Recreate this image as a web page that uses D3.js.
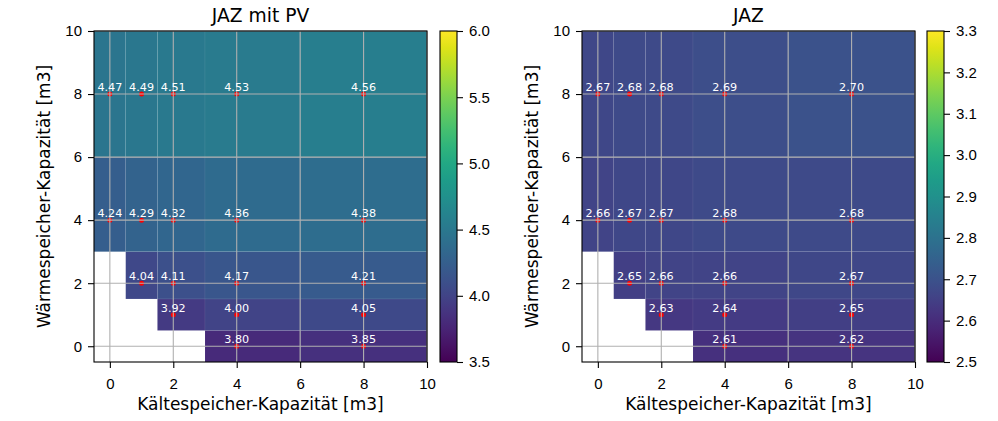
<!DOCTYPE html>
<html>
<head>
<meta charset="utf-8">
<script src="https://cdnjs.cloudflare.com/ajax/libs/d3/7.8.5/d3.min.js"></script>
<style>
body { margin: 0; background: #fff; }
svg { display: block; font-family: "DejaVu Sans", sans-serif; }
.domain { stroke: none; }
</style>
</head>
<body>
<div id="plot"></div>
<script>
// storage sizes (m3)
var coldSizes = [0, 1, 2, 4, 8];   // Kältespeicher, x
var warmSizes = [0, 1, 2, 4, 8];   // Wärmespeicher, y

// rows by warmSizes, columns by coldSizes; null = no result
var jazPV = [
  [null, null, null, 3.80, 3.85],
  [null, null, 3.92, 4.00, 4.05],
  [null, 4.04, 4.11, 4.17, 4.21],
  [4.24, 4.29, 4.32, 4.36, 4.38],
  [4.47, 4.49, 4.51, 4.53, 4.56]
];
var jaz = [
  [null, null, null, 2.61, 2.62],
  [null, null, 2.63, 2.64, 2.65],
  [null, 2.65, 2.66, 2.66, 2.67],
  [2.66, 2.67, 2.67, 2.68, 2.68],
  [2.67, 2.68, 2.68, 2.69, 2.70]
];
var titles = ["JAZ mit PV", "JAZ"];
var colorRanges = [[3.5, 6.0], [2.5, 3.3]];
var cbTicks = [[3.5, 4.0, 4.5, 5.0, 5.5, 6.0], [2.5, 2.6, 2.7, 2.8, 2.9, 3.0, 3.1, 3.2, 3.3]];
var axisTicks = [0, 2, 4, 6, 8, 10];
var xLabel = "Kältespeicher-Kapazität [m3]";
var yLabel = "Wärmespeicher-Kapazität [m3]";

(function() {
var W = 998, H = 421;
var svg = d3.select("#plot").append("svg").attr("width", W).attr("height", H);

// cell edges like pcolormesh shading='nearest'
function edges(v) {
  var e = [v[0] - (v[1] - v[0]) / 2];
  for (var i = 0; i < v.length - 1; ++i) e.push((v[i] + v[i + 1]) / 2);
  e.push(v[v.length - 1] + (v[v.length - 1] - v[v.length - 2]) / 2);
  return e;
}
var xe = edges(coldSizes), ye = edges(warmSizes);

var panels = [
  {data: jazPV, left: 94, right: 427, cbL: 440, cbR: 457, ylabX: 50},
  {data: jaz, left: 582, right: 915, cbL: 927, cbR: 944, ylabX: 538}
];
var pTop = 31, pBot = 362;

function styleTicks(sel) {
  sel.selectAll(".tick text").attr("font-size", 15).attr("fill", "#000");
  sel.selectAll(".tick line").attr("stroke", "#000").attr("stroke-width", 1.1);
}

panels.forEach(function(p, k) {
  var x = d3.scaleLinear().domain([xe[0], xe[xe.length - 1]]).range([p.left, p.right]);
  var y = d3.scaleLinear().domain([ye[0], ye[ye.length - 1]]).range([pBot, pTop]);
  var dom = colorRanges[k];
  var col = d3.scaleSequential(d3.interpolateViridis).domain(dom);
  var g = svg.append("g");

  var cells = [];
  p.data.forEach(function(row, i) {
    row.forEach(function(v, j) {
      if (v !== null) cells.push({i: i, j: j, v: v});
    });
  });

  g.selectAll("rect.cell").data(cells).enter().append("rect")
    .attr("class", "cell")
    .attr("x", function(d) { return x(xe[d.j]); })
    .attr("y", function(d) { return y(ye[d.i + 1]); })
    .attr("width", function(d) { return x(xe[d.j + 1]) - x(xe[d.j]); })
    .attr("height", function(d) { return y(ye[d.i]) - y(ye[d.i + 1]); })
    .attr("fill", function(d) { return col(d.v); })
    .attr("stroke", "rgba(255,255,255,0.09)")
    .attr("stroke-width", 0.6);

  g.selectAll("circle.pt").data(cells).enter().append("circle")
    .attr("cx", function(d) { return x(coldSizes[d.j]); })
    .attr("cy", function(d) { return y(warmSizes[d.i]); })
    .attr("r", 2.5)
    .attr("fill", "#ff0000");

  // grid
  axisTicks.forEach(function(t) {
    g.append("line").attr("x1", x(t)).attr("x2", x(t)).attr("y1", pTop).attr("y2", pBot)
      .attr("stroke", "#b0b0b0").attr("stroke-width", 1.1);
    g.append("line").attr("x1", p.left).attr("x2", p.right).attr("y1", y(t)).attr("y2", y(t))
      .attr("stroke", "#b0b0b0").attr("stroke-width", 1.1);
  });

  g.selectAll("text.val").data(cells).enter().append("text")
    .attr("x", function(d) { return x(coldSizes[d.j]); })
    .attr("y", function(d) { return y(warmSizes[d.i]) - 3; })
    .attr("text-anchor", "middle")
    .attr("font-size", 11.2)
    .attr("fill", "#fff")
    .text(function(d) { return d.v.toFixed(2); });

  // spines
  g.append("rect").attr("x", p.left).attr("y", pTop)
    .attr("width", p.right - p.left).attr("height", pBot - pTop)
    .attr("fill", "none").attr("stroke", "#000").attr("stroke-width", 1.1);

  g.append("g").attr("transform", "translate(0," + pBot + ")")
    .call(d3.axisBottom(x).tickValues(axisTicks).tickFormat(d3.format("d")).tickSizeOuter(0).tickSize(6).tickPadding(10))
    .call(styleTicks);
  g.append("g").attr("transform", "translate(" + p.left + ",0)")
    .call(d3.axisLeft(y).tickValues(axisTicks).tickFormat(d3.format("d")).tickSizeOuter(0).tickSize(6).tickPadding(6))
    .call(styleTicks);

  g.append("text").attr("x", (p.left + p.right) / 2).attr("y", 410)
    .attr("text-anchor", "middle").attr("font-size", 17).text(xLabel);
  g.append("text").attr("transform", "translate(" + p.ylabX + "," + ((pTop + pBot) / 2) + ") rotate(-90)")
    .attr("text-anchor", "middle").attr("font-size", 17).text(yLabel);
  g.append("text").attr("x", (p.left + p.right) / 2).attr("y", 21.5)
    .attr("text-anchor", "middle").attr("font-size", 18.7).text(titles[k]);

  // colorbar
  var gid = "grad" + k;
  var grad = svg.append("defs").append("linearGradient").attr("id", gid)
    .attr("x1", 0).attr("y1", 1).attr("x2", 0).attr("y2", 0);
  d3.range(0, 1.0001, 0.05).forEach(function(t) {
    grad.append("stop").attr("offset", t).attr("stop-color", d3.interpolateViridis(t));
  });
  var cy = d3.scaleLinear().domain(dom).range([pBot, pTop]);
  g.append("rect").attr("x", p.cbL).attr("y", pTop)
    .attr("width", p.cbR - p.cbL).attr("height", pBot - pTop)
    .attr("fill", "url(#" + gid + ")").attr("stroke", "#000").attr("stroke-width", 1.1);
  g.append("g").attr("transform", "translate(" + p.cbR + ",0)")
    .call(d3.axisRight(cy).tickValues(cbTicks[k]).tickFormat(d3.format(".1f")).tickSizeOuter(0).tickSize(6).tickPadding(6))
    .call(styleTicks);
});
})();
</script>
</body>
</html>
